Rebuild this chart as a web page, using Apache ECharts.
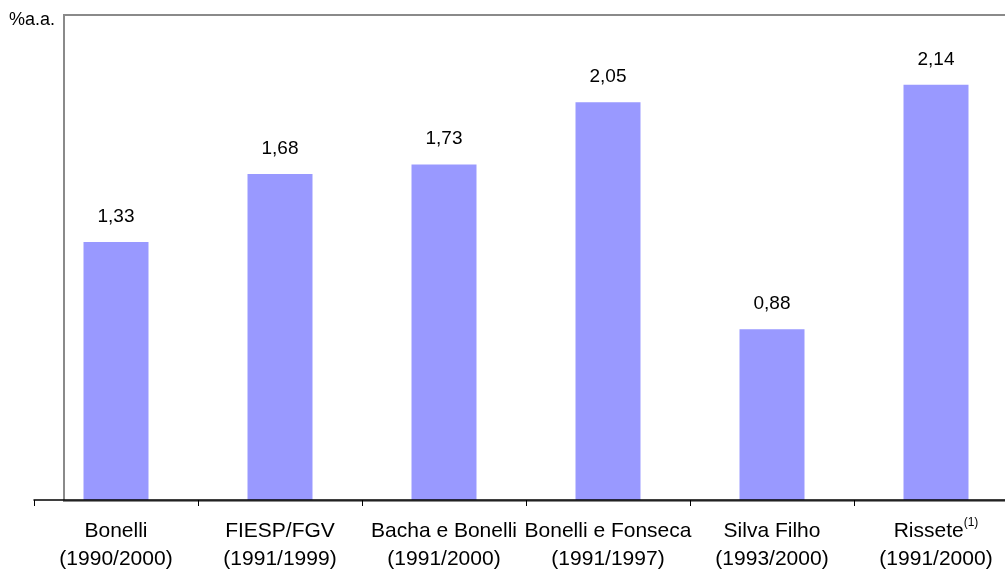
<!DOCTYPE html>
<html>
<head>
<meta charset="utf-8">
<script src="https://cdn.jsdelivr.net/npm/echarts@6/dist/echarts.min.js"></script>
<style>
  html, body { margin: 0; padding: 0; background: #fff; }
  #chart { width: 1005px; height: 572px; }
</style>
</head>
<body>
<div id="chart"></div>
<script>
// Study names and their periods (category labels)
const studies = ['Bonelli', 'FIESP/FGV', 'Bacha e Bonelli', 'Bonelli e Fonseca', 'Silva Filho', 'Rissete'];
const periods = ['(1990/2000)', '(1991/1999)', '(1991/2000)', '(1991/1997)', '(1993/2000)', '(1991/2000)'];
// Footnote marker per study ('' when none)
const notes = ['', '', '', '', '', '(1)'];
// Growth rate, % a.a.
const rates = [1.33, 1.68, 1.73, 2.05, 0.88, 2.14];
const unitLabel = '%a.a.';

const FONT = '"Liberation Sans", Arial, sans-serif';

const categories = studies.map((s, i) =>
  notes[i] ? s + '{sup|' + notes[i] + '}\n' + periods[i] : s + '\n' + periods[i]
);

const chart = echarts.init(document.getElementById('chart'), null, { renderer: 'canvas' });

chart.setOption({
  animation: false,
  backgroundColor: '#fff',
  textStyle: { fontFamily: FONT, color: '#000' },
  graphic: [{
    type: 'text',
    left: 9,
    top: 11,
    style: { text: unitLabel, fontFamily: FONT, fontSize: 18, fill: '#000' }
  }],
  grid: [
    { left: 34, top: 15, width: 984, bottom: 72, containLabel: false, outerBoundsMode: 'none' },
    // plot-area frame
    { left: 64, top: 15, width: 980, bottom: 71, show: true, borderColor: '#8a8a8a', borderWidth: 2, z: 0, outerBoundsMode: 'none' }
  ],
  xAxis: [{
    type: 'category',
    gridIndex: 0,
    data: categories,
    axisLine: { lineStyle: { color: '#000', width: 1.5 } },
    axisTick: { show: true, interval: 0, length: 6, lineStyle: { color: '#000', width: 1 } },
    axisLabel: {
      interval: 0,
      margin: 17,
      fontFamily: FONT,
      fontSize: 21,
      lineHeight: 28,
      color: '#000',
      align: 'center',
      rich: {
        sup: { fontFamily: FONT, fontSize: 12, verticalAlign: 'top', color: '#000', lineHeight: 28 }
      }
    },
    splitLine: { show: false },
    z: 3
  }, {
    type: 'category', gridIndex: 1, show: false, data: studies
  }],
  yAxis: [{
    type: 'value',
    gridIndex: 0,
    min: 0,
    max: 2.5,
    show: false,
    splitLine: { show: false }
  }, {
    type: 'value', gridIndex: 1, show: false, min: 0, max: 1
  }],
  series: [{
    type: 'bar',
    xAxisIndex: 0,
    yAxisIndex: 0,
    data: rates,
    barWidth: 65,
    itemStyle: { color: '#9999ff' },
    label: {
      show: true,
      position: 'top',
      distance: 16,
      fontFamily: FONT,
      fontSize: 19,
      color: '#000',
      formatter: p => p.value.toFixed(2).replace('.', ',')
    },
    z: 2
  }]
});
</script>
</body>
</html>
